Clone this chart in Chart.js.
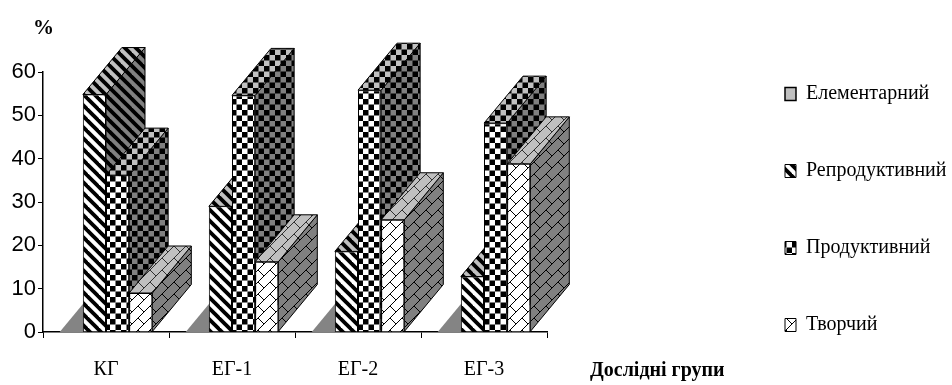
<!DOCTYPE html>
<html><head><meta charset="utf-8">
<style>html,body{margin:0;padding:0;background:#fff}canvas{display:block;filter:blur(.45px)}</style>
<script src="https://cdn.jsdelivr.net/npm/chart.js@4"></script>
</head><body><canvas id="c" width="952" height="385"></canvas>
<script>
const categories = ["КГ","ЕГ-1","ЕГ-2","ЕГ-3"];
const elementary = [0,0,0,0];
const reproductive = [54.8,29,18.6,12.8];
const productive = [36.2,54.6,55.8,48.2];
const creative = [9,16.2,25.9,38.8];
const seriesNames = ["Елементарний","Репродуктивний","Продуктивний","Творчий"];
const yTicks = [0,10,20,30,40,50,60];
const yAxisLabel = "%";
const xAxisLabel = "Дослідні групи";

function tile(w,h,bg,paint){
  const t=document.createElement('canvas');t.width=w;t.height=h;
  const g=t.getContext('2d');g.fillStyle=bg;g.fillRect(0,0,w,h);paint(g);
  return document.getElementById('c').getContext('2d').createPattern(t,'repeat');
}
function stripes(bg,fg){return tile(11,11,bg,g=>{
  g.strokeStyle=fg;g.lineWidth=3.8;
  for(let o=-22;o<=22;o+=11){g.beginPath();g.moveTo(o-2,-2);g.lineTo(o+13,13);g.stroke();}
});}
function checker(bg,fg){return tile(11,11,bg,g=>{
  g.fillStyle=fg;g.fillRect(0,0,5.5,5.5);g.fillRect(5.5,5.5,5.5,5.5);
});}
function brick(bg,fg){return tile(24,24,bg,g=>{
  g.strokeStyle=fg;g.lineWidth=1;
  g.beginPath();
  for(let o=-24;o<=48;o+=12){g.moveTo(o-1,25);g.lineTo(o+25,-1);}
  [[6,6],[18,18],[18,6],[6,18]].forEach(([x,y])=>{g.moveTo(x,y);g.lineTo(x+6,y+6);});
  g.stroke();
});}
const depthX=39, depthY=47;
const faces=[
  {top:'#848484',side:'#808080'},
  {top:stripes('#c0c0c0','#000'),side:stripes('#808080','#000')},
  {top:checker('#c0c0c0','#000'),side:checker('#808080','#000')},
  {top:brick('#c0c0c0','#303030'),side:brick('#808080','#000')}
];
const fronts=['#c0c0c0',stripes('#fff','#000'),checker('#fff','#000'),brick('#fff','#000')];
const seriesValues=[elementary,reproductive,productive,creative];

const bars3d={
  id:'bars3d',
  beforeDatasetDraw(){return false;},
  afterDatasetsDraw(chart){
    const ctx=chart.ctx;
    seriesNames.forEach((n,i)=>{
      const meta=chart.getDatasetMeta(i),f=faces[i];
      ctx.save();ctx.strokeStyle='#000';ctx.lineWidth=1;
      meta.data.forEach(b=>{
        const l=b.x-b.width/2,r=b.x+b.width/2,t=b.y,bs=b.base;
        ctx.beginPath();ctx.moveTo(r,bs);ctx.lineTo(r+depthX,bs-depthY);ctx.lineTo(r+depthX,t-depthY);ctx.lineTo(r,t);ctx.closePath();
        ctx.fillStyle=f.side;ctx.fill();if(i>0)ctx.stroke();
        ctx.beginPath();ctx.moveTo(l,t);ctx.lineTo(l+depthX,t-depthY);ctx.lineTo(r+depthX,t-depthY);ctx.lineTo(r,t);ctx.closePath();
        ctx.fillStyle=f.top;ctx.fill();if(i>0)ctx.stroke();
      });
      ctx.restore();
      if(i>0)meta.controller.draw();
    });
  },
  afterLayout(chart){
    const lg=chart.legend;
    lg.update(240,420,{left:0,right:0,top:0,bottom:0});
    lg.left=728;lg.right=lg.left+lg.width;lg.top=27;lg.bottom=lg.top+lg.height;
  },
  afterDraw(chart){
    const ctx=chart.ctx;ctx.save();ctx.fillStyle='#000';
    ctx.textBaseline='alphabetic';
    ctx.font='bold 21px "Liberation Serif"';ctx.textAlign='left';
    ctx.fillText(yAxisLabel,33,34);
    ctx.font='bold 20px "Liberation Serif"';
    ctx.fillText(xAxisLabel,590,376);
    ctx.restore();
  }
};

new Chart(document.getElementById('c'),{
  type:'bar',
  data:{labels:categories,datasets:seriesNames.map((n,i)=>({
    label:n,data:seriesValues[i],backgroundColor:fronts[i],
    borderColor:'#000',borderWidth:i===0?1.5:1,categoryPercentage:.735,barPercentage:1
  }))},
  options:{
    responsive:false,animation:false,events:[],
    layout:{padding:{left:0,top:72,right:405,bottom:0}},
    plugins:{
      tooltip:{enabled:false},title:{display:false},
      legend:{display:true,position:'chartArea',align:'start',
        labels:{boxWidth:11,boxHeight:13,padding:57,color:'#000',font:{family:'"Liberation Serif"',size:20}}}
    },
    scales:{
      x:{grid:{display:true,drawOnChartArea:false,drawTicks:true,tickLength:6,color:'#000',lineWidth:1},
         border:{color:'#000',width:1.5},
         ticks:{color:'#000',padding:20,maxRotation:0,font:{family:'"Liberation Serif"',size:20}},
         afterFit(s){s.height=53;}},
      y:{min:0,max:60,afterBuildTicks(s){s.ticks=yTicks.map(v=>({value:v}));},
         grid:{drawOnChartArea:false,tickLength:5,color:'#000',lineWidth:1},
         border:{color:'#000',width:1.5},
         ticks:{color:'#000',padding:2,font:{family:'"Liberation Sans"',size:22}},
         afterFit(s){s.width=43;}}
    }
  },
  plugins:[bars3d]
});
</script></body></html>
